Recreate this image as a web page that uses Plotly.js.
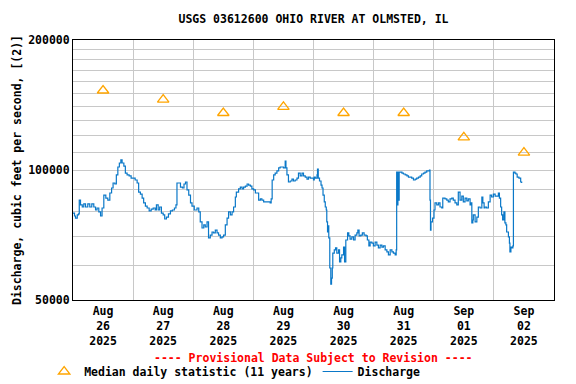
<!DOCTYPE html>
<html>
<head>
<meta charset="utf-8">
<script src="https://cdn.plot.ly/plotly-3.0.1.min.js"></script>
<style>html,body{margin:0;padding:0;background:#fff;}#chart{width:576px;height:384px;}</style>
</head>
<body>
<div id="chart"></div>
<script>
// ---- Data ----
var startDate = '2025-08-26';
var endDate = '2025-09-03';

var medianDates = ['2025-08-26 12:00','2025-08-27 12:00','2025-08-28 12:00','2025-08-29 12:00',
                   '2025-08-30 12:00','2025-08-31 12:00','2025-09-01 12:00','2025-09-02 12:00'];
var medianCfs = [152800, 145600, 135500, 140000, 135500, 135500, 119000, 109700];

// hours after 2025-08-26 00:00
var dischargeHours = [
 0,0.6,1.0,1.7,2.2,2.5,3.0,3.7,4.3,5.0,5.9,6.7,7.5,8.3,9.0,9.6,10.3,11.0,11.6,12.3,
 13.1,13.9,14.7,15.4,16.0,16.7,17.3,17.9,18.5,19.1,19.6,20.3,20.9,21.6,22.4,23.2,24.0,24.8,25.6,26.2,
 26.9,27.6,28.2,28.9,29.6,30.4,31.2,32.0,32.8,33.3,34.0,34.6,35.3,36.0,36.6,37.3,38.1,38.9,39.7,40.5,
 41.1,41.5,42.2,42.9,43.7,44.3,44.9,45.5,46.2,46.9,47.5,48.4,
 49.5,50.2,50.8,51.5,52.2,52.8,53.5,54.1,54.8,55.5,56.1,56.8,57.5,58.1,58.8,59.5,60.1,60.8,61.5,62.1,
 62.8,63.5,64.1,64.8,65.2,66.1,66.8,67.5,68.1,68.8,69.5,70.1,70.8,71.4,72.1,72.8,73.4,74.1,74.8,75.4,
 76.1,77.2,78.1,78.7,79.1,79.5,80.1,80.7,81.4,82.1,82.7,83.4,84.0,84.7,85.0,85.4,86.0,86.7,87.4,88.0,
 88.7,89.4,90.0,90.7,91.4,92.0,92.7,93.4,94.0,94.7,95.4,96.0,
 96.3,96.7,97.4,97.6,97.9,98.4,99.0,99.4,99.8,100.3,100.7,101.1,101.3,101.6,101.9,102.1,102.5,102.9,103.2,103.5,
 103.7,104.3,104.8,105.3,106.0,106.4,106.9,107.3,108.0,108.4,108.9,109.6,110.1,110.6,111.3,112.0,112.6,113.3,113.7,114.2,
 114.9,115.5,116.2,117.0,117.5,118.1,118.6,119.3,119.9,120.6,121.3,121.9,122.6,123.3,123.9,124.6,125.3,125.9,126.6,127.3,
 127.9,128.6,129.0,129.2,129.45,129.7,129.95,130.2,130.6,131.3,131.9,132.6,133.3,133.9,134.6,135.2,135.9,136.6,137.2,137.9,
 138.6,139.2,139.9,140.5,141.2,141.9,142.3,142.5,142.7,142.9,143.5,144.1,
 144.5,145.2,145.9,146.5,147.2,147.6,148.5,149.2,149.8,150.5,151.2,151.8,152.5,153.2,153.8,154.5,155.2,155.8,156.5,157.2,
 157.8,158.5,158.9,159.2,159.6,159.8,160.5,161.2,161.8,162.5,163.2,163.6,164.1,164.5,165.1,165.8,166.5,167.1,167.8,168.5,
 169.1,169.8,170.2,170.7,171.1,171.5,172.0,172.4,172.8,173.1,173.8,174.2,174.4,174.8,175.2,175.6,175.8,176.4,176.8,177.3,
 178.0,178.7,179.1
];
var dischargeCfs = [
 79500,78250,77400,78700,79100,85200,83000,82100,83500,82100,83500,82100,83500,82100,80800,81650,80000,78250,81650,87500,
 86100,85200,88450,90850,93300,92800,97400,101600,103800,105500,103800,102100,98400,97400,96900,95800,95800,94800,93300,88900,
 87950,86100,83900,82500,81650,80400,81200,81650,80800,83000,80800,82100,79500,78700,77000,77800,79100,80400,80800,81650,
 83000,93300,93300,91300,90850,92800,93800,89900,87500,83900,82500,80800,
 81650,80000,75800,73400,74600,73800,75800,69600,70700,71850,71500,72600,71500,70700,69600,70000,70700,74600,77400,80000,
 78700,80000,82100,86600,88900,90400,91300,90400,91300,91800,92800,92300,91800,90400,89900,88450,88450,85200,85700,85200,
 84400,84400,84400,83900,85700,94800,97400,98400,99500,101100,101600,101600,101100,104900,101100,97400,93800,94300,95300,94300,
 94800,95800,98400,96900,98400,96900,96300,95300,96300,95800,95800,94800,
 96300,95800,97400,100500,95800,94300,92300,90850,87500,84400,82100,80800,75800,71850,74200,69600,59300,54400,56200,59300,
 64200,65300,66000,64200,65300,61300,62600,63600,66300,61300,68850,71500,70350,69200,70000,68850,70700,71500,72600,70350,
 70700,71500,70700,70350,68850,66700,68100,67700,66700,68100,67000,66000,67000,66300,66700,65300,64600,63600,65300,64600,
 64200,63600,65300,98900,83000,98900,85200,98900,98900,98400,97900,97400,96900,96300,96300,95800,94800,95300,95800,96300,
 96900,97900,98400,98900,99500,99500,100000,85200,72600,75800,77400,80800,
 83900,83000,83900,82100,81650,86100,85700,85200,84400,85700,86100,85200,83900,83000,88900,85200,87000,84400,86100,84800,
 85700,83000,83900,75400,76600,78700,75800,77800,82100,81650,86600,83900,81650,82100,81650,84400,87500,86600,87950,87000,
 87000,88450,86100,82100,78700,76600,80000,75400,74600,71850,70000,67700,64600,66300,66000,66700,98900,98400,97900,96300,
 95800,93800,93300
];

var yTickValues = [50000,60000,70000,80000,90000,100000,110000,120000,130000,140000,150000,160000,170000,180000,190000,200000];
var yTickText   = ['50000','','','','','100000','','','','','','','','','','200000'];

var titleText = 'USGS 03612600 OHIO RIVER AT OLMSTED, IL';
var yTitleText = 'Discharge, cubic feet per second, [(2)]';
var noteText = '---- Provisional Data Subject to Revision ----';
var medianName = 'Median daily statistic (11 years)';
var dischargeName = 'Discharge';

// ---- Build ----
function hoursToDate(h) {
  var base = Date.UTC(2025, 7, 26);
  var d = new Date(base + Math.round(h * 3600000));
  return d.toISOString().slice(0, 19).replace('T', ' ');
}
var dischargeDates = dischargeHours.map(hoursToDate);

var FONT = 'DejaVu Sans Mono, Liberation Mono, monospace';

var traces = [
  {
    x: medianDates, y: medianCfs, type: 'scatter', mode: 'markers', name: medianName,
    marker: {symbol: 'triangle-up-open', size: 10, color: '#FFA500', line: {width: 1.3, color: '#FFA500'}},
    hoverinfo: 'skip'
  },
  {
    x: dischargeDates, y: dischargeCfs, type: 'scatter', mode: 'lines', name: dischargeName,
    line: {color: '#0a78c8', width: 1.2, shape: 'hv'},
    hoverinfo: 'skip'
  }
];

var layout = {
  width: 576, height: 384,
  margin: {l: 73, r: 22, t: 40, b: 84, autoexpand: false},
  paper_bgcolor: '#ffffff', plot_bgcolor: '#ffffff',
  font: {family: FONT, size: 11.5, color: '#000', weight: 'bold'},
  title: {
    text: titleText, x: 0.5, xref: 'paper', xanchor: 'center',
    y: 1 - 19 / 384, yref: 'container', yanchor: 'middle',
    font: {family: FONT, size: 11.5, color: '#000', weight: 'bold'}
  },
  showlegend: true,
  legend: {
    orientation: 'h', x: -0.06, xanchor: 'left', y: -0.275, yanchor: 'middle',
    font: {family: FONT, size: 11.5, color: '#000', weight: 'bold'},
    bgcolor: 'rgba(0,0,0,0)', itemwidth: 30, traceorder: 'normal'
  },
  xaxis: {
    type: 'date', range: [startDate, endDate],
    tick0: startDate, dtick: 86400000, ticklabelmode: 'period',
    tickformat: '%b<br>%d<br>%Y',
    showgrid: true, gridcolor: '#c8c8c8', gridwidth: 1,
    showline: true, mirror: true, linecolor: '#000', linewidth: 1,
    ticks: '', zeroline: false,
    tickfont: {family: FONT, size: 11.5, color: '#000', weight: 'bold'}
  },
  yaxis: {
    type: 'log', range: [Math.log10(50000), Math.log10(200000)],
    tickmode: 'array', tickvals: yTickValues, ticktext: yTickText,
    showgrid: true, gridcolor: '#c8c8c8', gridwidth: 1,
    showline: true, mirror: true, linecolor: '#000', linewidth: 1,
    ticks: '', zeroline: false,
    tickfont: {family: FONT, size: 11.5, color: '#000', weight: 'bold'},
    title: {text: yTitleText, standoff: 4, font: {family: FONT, size: 11.5, color: '#000', weight: 'bold'}}
  },
  annotations: [
    {
      text: noteText, xref: 'paper', yref: 'paper', x: 0.5, y: -58 / 260,
      xanchor: 'center', yanchor: 'middle', showarrow: false,
      font: {family: FONT, size: 11.5, color: '#ff0000', weight: 'bold'}
    }
  ]
};

Plotly.newPlot('chart', traces, layout, {displayModeBar: false, staticPlot: true});
</script>
</body>
</html>
